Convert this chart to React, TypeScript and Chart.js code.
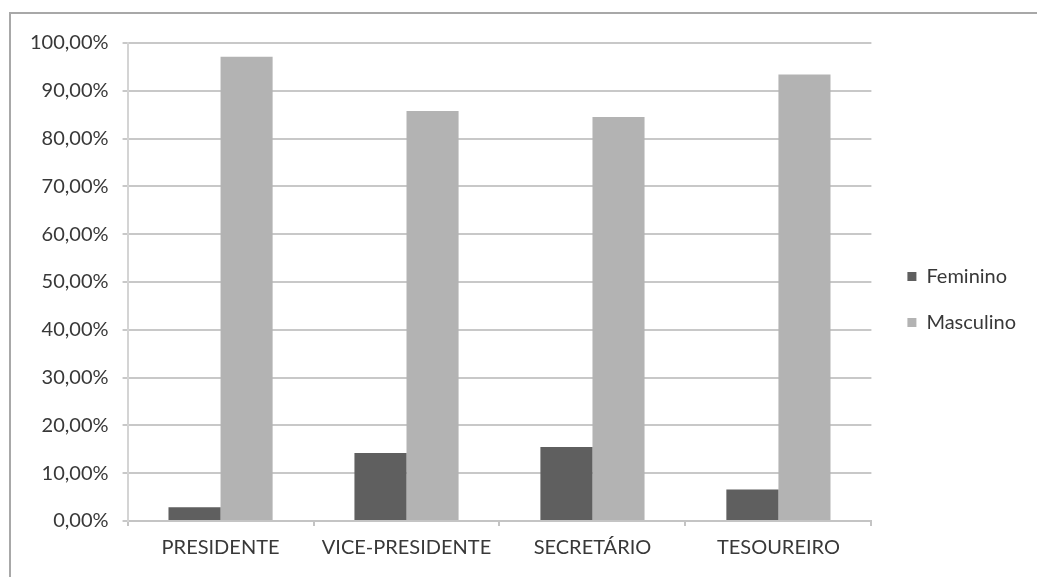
import React, { useEffect, useRef } from "react";
import { Chart, registerables } from "chart.js";

Chart.register(...registerables);

const categories = ["PRESIDENTE", "VICE-PRESIDENTE", "SECRETÁRIO", "TESOUREIRO"];
const seriesNames = ["Feminino", "Masculino"];
const feminino = [2.9, 14.2, 15.5, 6.6];
const masculino = [97.1, 85.8, 84.5, 93.4];
const yMin = 0;
const yMax = 100;
const yStep = 10;

const FONT = "Lato, 'Open Sans', sans-serif";
const TEXT = "#383838";

const legendShift = {
  id: "legendShift",
  afterLayout(chart: any) {
    const l = chart.legend;
    if (l) {
      l.left += 10;
      l.right += 10;
      l.top -= 7;
      l.bottom -= 7;
    }
  },
};

export default function App() {
  const ref = useRef<HTMLCanvasElement | null>(null);

  useEffect(() => {
    if (!ref.current) return;
    const chart = new Chart(ref.current, {
      type: "bar",
      data: {
        labels: categories,
        datasets: [
          {
            label: seriesNames[0],
            data: feminino,
            backgroundColor: "#5f5f5f",
            barPercentage: 1,
            categoryPercentage: 0.56,
          },
          {
            label: seriesNames[1],
            data: masculino,
            backgroundColor: "#b3b3b3",
            barPercentage: 1,
            categoryPercentage: 0.56,
          },
        ],
      },
      plugins: [legendShift],
      options: {
        responsive: false,
        animation: false,
        layout: { padding: { top: 29, bottom: 0, left: 5, right: 21 } },
        plugins: {
          title: { display: false },
          tooltip: { enabled: false },
          legend: {
            position: "right",
            align: "center",
            labels: {
              boxWidth: 9,
              boxHeight: 9,
              padding: 26,
              color: TEXT,
              font: { family: FONT, size: 20 },
            },
          },
        },
        scales: {
          x: {
            grid: {
              display: true,
              drawOnChartArea: false,
              drawTicks: true,
              tickLength: 5,
              color: "#c4c4c4",
              lineWidth: 2,
            },
            border: { display: true, color: "#c4c4c4", width: 2 },
            ticks: {
              color: TEXT,
              padding: 10,
              font: { family: FONT, size: 20 },
              maxRotation: 0,
            },
          },
          y: {
            min: yMin,
            max: yMax,
            grid: {
              color: "#c8c8c8",
              lineWidth: 2,
              tickLength: 5,
            },
            border: { display: true, color: "#d4d4d4", width: 2 },
            ticks: {
              stepSize: yStep,
              color: TEXT,
              padding: 14,
              font: { family: FONT, size: 20 },
              callback: (v: any) => Number(v).toFixed(2).replace(".", ",") + "%",
            },
          },
        },
      },
    });
    return () => chart.destroy();
  }, []);

  return (
    <div
      style={{
        position: "fixed",
        left: 9,
        top: 12,
        right: 0,
        bottom: 0,
        borderLeft: "2px solid #a8a8a8",
        borderTop: "2px solid #a8a8a8",
        background: "#fff",
      }}
    >
      <canvas
        ref={ref}
        width={1026}
        height={556}
        style={{ position: "absolute", left: 0, top: 0, width: 1026, height: 556 }}
      />
    </div>
  );
}
